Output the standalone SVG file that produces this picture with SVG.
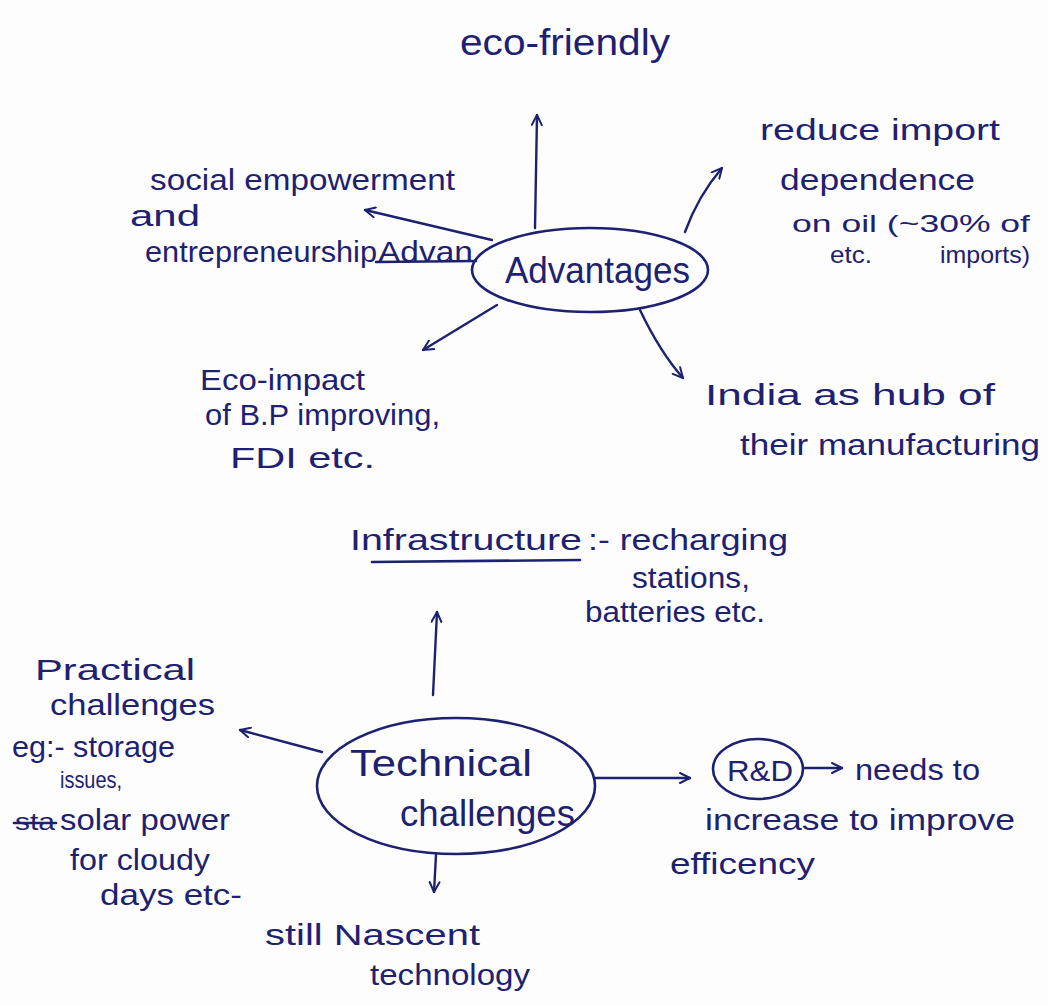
<svg xmlns="http://www.w3.org/2000/svg" width="1048" height="1005" viewBox="0 0 1048 1005">
  <style>
    .ink { fill: #1d2170; font-family: "Liberation Sans", "DejaVu Sans", sans-serif; font-size: 30px; }
    .big { font-size: 36px; }
    .small { font-size: 24px; }
    .shape { fill: none; stroke: #1d2170; stroke-width: 2.6; stroke-linecap: round; stroke-linejoin: round; }
    .wire { fill: none; stroke: #1d2170; stroke-width: 2.4; stroke-linecap: round; }
  </style>
  <defs>
    <marker id="head" viewBox="0 0 12 12" refX="11" refY="6" markerWidth="12" markerHeight="12" markerUnits="userSpaceOnUse" orient="auto">
      <path d="M1,1 L11,6 L1,11" fill="none" stroke="#1d2170" stroke-width="2" stroke-linecap="round" stroke-linejoin="round"/>
    </marker>
  </defs>
  <rect width="1048" height="1005" fill="#fdfdfd"/>

  <!-- connectors -->
  <g id="connectors">
    <path class="wire" d="M535,228 L537,115" marker-end="url(#head)"/>
    <path class="wire" d="M492,240 L365,210" marker-end="url(#head)"/>
    <path class="wire" d="M685,232 Q698,196 722,168" marker-end="url(#head)"/>
    <path class="wire" d="M497,305 L423,350" marker-end="url(#head)"/>
    <path class="wire" d="M640,310 Q660,352 683,378" marker-end="url(#head)"/>
    <path class="wire" d="M433,695 L437,612" marker-end="url(#head)"/>
    <path class="wire" d="M322,752 L240,730" marker-end="url(#head)"/>
    <path class="wire" d="M595,778 L690,778" marker-end="url(#head)"/>
    <path class="wire" d="M805,768 L842,768" marker-end="url(#head)"/>
    <path class="wire" d="M436,855 L434,892" marker-end="url(#head)"/>
  </g>

  <!-- top half: advantages -->
  <g id="eco-friendly">
    <text class="ink big" x="460" y="55" textLength="210" lengthAdjust="spacingAndGlyphs">eco-friendly</text>
  </g>

  <g id="advantages">
    <ellipse class="shape" cx="590" cy="270" rx="118" ry="42"/>
    <text class="ink big" x="505" y="283" textLength="185" lengthAdjust="spacingAndGlyphs">Advantages</text>
  </g>

  <g id="social">
    <text class="ink" x="150" y="190" textLength="305" lengthAdjust="spacingAndGlyphs">social empowerment</text>
    <text class="ink" x="130" y="226" textLength="70" lengthAdjust="spacingAndGlyphs">and</text>
    <text class="ink" x="145" y="262" textLength="232" lengthAdjust="spacingAndGlyphs">entrepreneurship</text>
    <text class="ink" x="378" y="262" textLength="95" lengthAdjust="spacingAndGlyphs">Advan</text>
    <line class="shape" x1="376" y1="262" x2="476" y2="261"/>
  </g>

  <g id="reduce-import">
    <text class="ink" x="760" y="140" textLength="240" lengthAdjust="spacingAndGlyphs">reduce import</text>
    <text class="ink" x="780" y="190" textLength="195" lengthAdjust="spacingAndGlyphs">dependence</text>
    <text class="ink small" x="792" y="232" textLength="238" lengthAdjust="spacingAndGlyphs">on oil (~30% of</text>
    <text class="ink small" x="830" y="263" textLength="42" lengthAdjust="spacingAndGlyphs">etc.</text>
    <text class="ink small" x="940" y="263" textLength="90" lengthAdjust="spacingAndGlyphs">imports)</text>
  </g>

  <g id="eco-impact">
    <text class="ink" x="200" y="390" textLength="165" lengthAdjust="spacingAndGlyphs">Eco-impact</text>
    <text class="ink" x="205" y="425" textLength="235" lengthAdjust="spacingAndGlyphs">of B.P improving,</text>
    <text class="ink" x="230" y="468" textLength="145" lengthAdjust="spacingAndGlyphs">FDI etc.</text>
  </g>

  <g id="india-hub">
    <text class="ink" x="705" y="405" textLength="290" lengthAdjust="spacingAndGlyphs">India as hub of</text>
    <text class="ink" x="740" y="455" textLength="300" lengthAdjust="spacingAndGlyphs">their manufacturing</text>
  </g>

  <!-- bottom half: technical challenges -->
  <g id="infrastructure">
    <text class="ink" x="350" y="550" textLength="232" lengthAdjust="spacingAndGlyphs">Infrastructure</text>
    <line class="shape" x1="372" y1="562" x2="580" y2="560"/>
    <text class="ink" x="588" y="550" textLength="200" lengthAdjust="spacingAndGlyphs">:- recharging</text>
    <text class="ink" x="632" y="588" textLength="118" lengthAdjust="spacingAndGlyphs">stations,</text>
    <text class="ink" x="585" y="622" textLength="180" lengthAdjust="spacingAndGlyphs">batteries etc.</text>
  </g>

  <g id="technical-challenges">
    <ellipse class="shape" cx="456" cy="786" rx="139" ry="68"/>
    <text class="ink big" x="350" y="776" textLength="182" lengthAdjust="spacingAndGlyphs">Technical</text>
    <text class="ink big" x="400" y="826" textLength="175" lengthAdjust="spacingAndGlyphs">challenges</text>
  </g>

  <g id="practical-challenges">
    <text class="ink" x="35" y="680" textLength="160" lengthAdjust="spacingAndGlyphs">Practical</text>
    <text class="ink" x="50" y="715" textLength="165" lengthAdjust="spacingAndGlyphs">challenges</text>
    <text class="ink" x="12" y="757" textLength="163" lengthAdjust="spacingAndGlyphs">eg:- storage</text>
    <text class="ink small" x="60" y="788" textLength="62" lengthAdjust="spacingAndGlyphs">issues,</text>
    <text class="ink small" x="15" y="830" textLength="40" lengthAdjust="spacingAndGlyphs">sta</text>
    <line class="shape" x1="14" y1="823" x2="56" y2="823"/>
    <text class="ink" x="60" y="830" textLength="170" lengthAdjust="spacingAndGlyphs">solar power</text>
    <text class="ink" x="70" y="870" textLength="140" lengthAdjust="spacingAndGlyphs">for cloudy</text>
    <text class="ink" x="100" y="905" textLength="142" lengthAdjust="spacingAndGlyphs">days etc-</text>
  </g>

  <g id="r-and-d">
    <ellipse class="shape" cx="758" cy="769" rx="45" ry="30"/>
    <text class="ink" x="727" y="781" textLength="66" lengthAdjust="spacingAndGlyphs">R&amp;D</text>
  </g>

  <g id="needs-to-increase">
    <text class="ink" x="855" y="780" textLength="125" lengthAdjust="spacingAndGlyphs">needs to</text>
    <text class="ink" x="705" y="830" textLength="310" lengthAdjust="spacingAndGlyphs">increase to improve</text>
    <text class="ink" x="670" y="874" textLength="145" lengthAdjust="spacingAndGlyphs">efficency</text>
  </g>

  <g id="nascent">
    <text class="ink" x="265" y="945" textLength="215" lengthAdjust="spacingAndGlyphs">still Nascent</text>
    <text class="ink" x="370" y="985" textLength="160" lengthAdjust="spacingAndGlyphs">technology</text>
  </g>
</svg>
